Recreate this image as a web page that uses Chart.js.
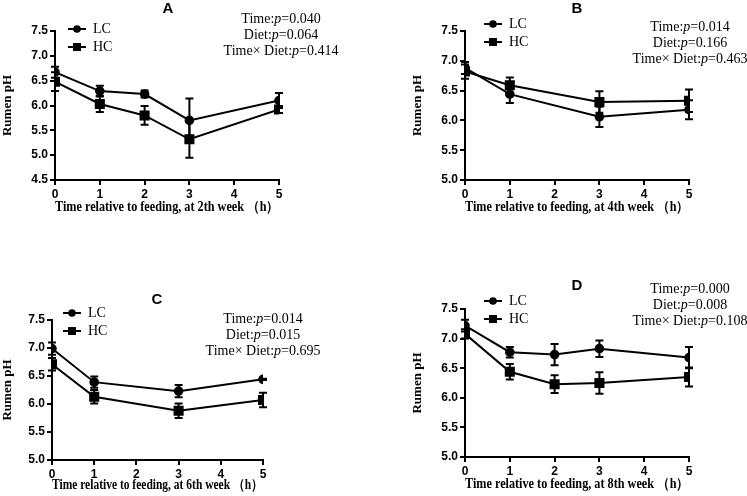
<!DOCTYPE html>
<html>
<head>
<meta charset="utf-8">
<script src="https://cdn.jsdelivr.net/npm/chart.js@4.4.1/dist/chart.umd.min.js"></script>
<style>
  html, body { margin: 0; padding: 0; background: #fff; }
  #wrap { position: relative; width: 747px; height: 496px; overflow: hidden; }
  .panel { position: absolute; }
</style>
</head>
<body>
<div id="wrap">
  <div class="panel" style="left:0;top:0;width:373px;height:248px"><canvas id="chartA"></canvas></div>
  <div class="panel" style="left:373px;top:0;width:374px;height:248px"><canvas id="chartB"></canvas></div>
  <div class="panel" style="left:0;top:248px;width:373px;height:248px"><canvas id="chartC"></canvas></div>
  <div class="panel" style="left:373px;top:248px;width:374px;height:248px"><canvas id="chartD"></canvas></div>
</div>
<script>
// hours after feeding
var timeA = [0, 1, 2, 3, 5];
var timeB = [0, 1, 3, 5];
var timeC = [0, 1, 3, 5];
var timeD = [0, 1, 2, 3, 5];

// rumen pH, mean and SEM
var lcA = [6.67, 6.29, 6.23, 5.70, 6.10];
var lcErrA = [0.11, 0.11, 0.07, 0.44, 0.15];
var hcA = [6.48, 6.03, 5.80, 5.32, 5.92];
var hcErrA = [0.19, 0.16, 0.19, 0.37, 0.07];

var lcB = [6.88, 6.44, 6.06, 6.18];
var lcErrB = [0.10, 0.15, 0.17, 0.16];
var hcB = [6.82, 6.59, 6.31, 6.33];
var hcErrB = [0.12, 0.13, 0.18, 0.19];

var lcC = [6.99, 6.39, 6.23, 6.44];
var lcErrC = [0.11, 0.10, 0.11, 0.01];
var hcC = [6.71, 6.13, 5.88, 6.07];
var hcErrC = [0.11, 0.12, 0.13, 0.13];

var lcD = [7.22, 6.77, 6.73, 6.83, 6.68];
var lcErrD = [0.10, 0.09, 0.18, 0.14, 0.18];
var hcD = [7.08, 6.44, 6.23, 6.25, 6.35];
var hcErrD = [0.08, 0.13, 0.15, 0.18, 0.16];

var pA = ['0.040', '0.064', '0.414'];
var pB = ['0.014', '0.166', '0.463'];
var pC = ['0.014', '0.015', '0.695'];
var pD = ['0.000', '0.008', '0.108'];

var weekLabels = ['2th', '4th', '6th', '8th'];

function pts(xs, ys) {
  return xs.map(function (x, i) { return { x: x, y: ys[i] }; });
}

// error bars through the chart's own scales
var errorBars = {
  id: 'errorBars',
  afterDatasetsDraw: function (chart) {
    var ctx = chart.ctx, ys = chart.scales.y, xs = chart.scales.x;
    ctx.save();
    ctx.strokeStyle = '#000';
    ctx.lineWidth = 2;
    chart.data.datasets.forEach(function (ds) {
      ds.data.forEach(function (p, i) {
        var e = ds.errors[i];
        var px = xs.getPixelForValue(p.x);
        var top = ys.getPixelForValue(p.y + e);
        var bot = ys.getPixelForValue(p.y - e);
        ctx.beginPath();
        ctx.moveTo(px, top); ctx.lineTo(px, bot);
        ctx.moveTo(px - 4, top); ctx.lineTo(px + 4, top);
        ctx.moveTo(px - 4, bot); ctx.lineTo(px + 4, bot);
        ctx.stroke();
      });
    });
    ctx.restore();
  }
};

// panel letter, legend and p-value notes
var notes = {
  id: 'notes',
  afterDraw: function (chart) {
    var o = chart.options.plugins.notes;
    var ctx = chart.ctx;
    ctx.save();
    ctx.fillStyle = '#000';
    ctx.strokeStyle = '#000';
    ctx.textBaseline = 'middle';

    ctx.font = 'bold 15px "Liberation Sans", Arial, sans-serif';
    ctx.textAlign = 'center';
    ctx.fillText(o.letter, o.letterX, o.letterY);

    // legend
    ctx.lineWidth = 2;
    var lx = o.legX, ly = o.legY;
    [['LC', 'circle'], ['HC', 'rect']].forEach(function (it, k) {
      var y = ly + k * 18;
      ctx.beginPath();
      ctx.moveTo(lx, y); ctx.lineTo(lx + 18, y);
      ctx.stroke();
      ctx.beginPath();
      if (it[1] === 'circle') {
        ctx.arc(lx + 9, y, 3.8, 0, Math.PI * 2);
      } else {
        ctx.rect(lx + 9 - 4, y - 4, 8, 8);
      }
      ctx.fill();
      ctx.font = '14px "Liberation Serif", "Times New Roman", serif';
      ctx.textAlign = 'left';
      ctx.fillText(it[0], lx + 25, y);
    });

    // p values, centred lines with italic p
    var lines = [['Time:', o.p[0]], ['Diet:', o.p[1]], ['Time\u00d7 Diet:', o.p[2]]];
    var normal = '14px "Liberation Serif", "Times New Roman", serif';
    var ital = 'italic 14px "Liberation Serif", "Times New Roman", serif';
    lines.forEach(function (ln, k) {
      var parts = [[ln[0], normal], ['p', ital], ['=' + ln[1], normal]];
      var w = 0;
      parts.forEach(function (pt) { ctx.font = pt[1]; w += ctx.measureText(pt[0]).width; });
      var x = o.pX - w / 2, y = o.pY + k * 16;
      ctx.textAlign = 'left';
      parts.forEach(function (pt) {
        ctx.font = pt[1];
        ctx.fillText(pt[0], x, y);
        x += ctx.measureText(pt[0]).width;
      });
    });
    ctx.restore();
  }
};

function makeChart(id, times, lc, lcErr, hc, hcErr, pv, week, yMin, lay) {
  return new Chart(document.getElementById(id), {
    type: 'line',
    data: {
      datasets: [{
        label: 'LC',
        data: pts(times, lc),
        errors: lcErr,
        borderColor: '#000',
        backgroundColor: '#000',
        borderWidth: 2,
        pointStyle: 'circle',
        pointRadius: 3.8,
        pointHoverRadius: 3.8
      }, {
        label: 'HC',
        data: pts(times, hc),
        errors: hcErr,
        borderColor: '#000',
        backgroundColor: '#000',
        borderWidth: 2,
        pointStyle: 'rect',
        pointRadius: 5.7,
        pointHoverRadius: 5.7
      }]
    },
    options: {
      responsive: true,
      maintainAspectRatio: false,
      animation: false,
      events: [],
      layout: { padding: { top: lay.top, left: lay.left, right: lay.right, bottom: 0 } },
      scales: {
        x: {
          type: 'linear',
          min: 0,
          max: 5,
          afterFit: function (a) { a.height = lay.xH; },
          border: { color: '#000', width: 2 },
          grid: { drawOnChartArea: false, drawTicks: true, tickLength: 5, color: '#000', lineWidth: 2 },
          ticks: {
            stepSize: 1,
            padding: 2,
            color: '#000',
            font: { family: '"Liberation Sans", Arial, sans-serif', size: 12, weight: 'bold' }
          },
          title: {
            display: true,
            text: 'Time relative to feeding, at ' + week + ' week \uff08h\uff09',
            color: '#000',
            padding: { top: 0, bottom: lay.xTitlePad },
            font: { family: '"Liberation Serif", "Times New Roman", serif', size: 13.6, weight: 'bold' }
          }
        },
        y: {
          min: yMin,
          max: 7.5,
          afterFit: function (a) { a.width = lay.yW; },
          border: { color: '#000', width: 2 },
          grid: { drawOnChartArea: false, drawTicks: true, tickLength: 5, color: '#000', lineWidth: 2 },
          ticks: {
            stepSize: 0.5,
            padding: 2,
            color: '#000',
            callback: function (v) { return v.toFixed(1); },
            font: { family: '"Liberation Sans", Arial, sans-serif', size: 12, weight: 'bold' }
          },
          title: {
            display: true,
            text: 'Rumen pH',
            color: '#000',
            padding: 0,
            font: { family: '"Liberation Serif", "Times New Roman", serif', size: 13, weight: 'bold' }
          }
        }
      },
      plugins: {
        legend: { display: false },
        title: { display: false },
        tooltip: { enabled: false },
        notes: {
          letter: lay.letter, letterX: lay.letterX, letterY: lay.letterY,
          legX: lay.legX, legY: lay.legY,
          pX: lay.pX, pY: lay.pY, p: pv
        }
      }
    },
    plugins: [errorBars, notes]
  });
}

makeChart('chartA', timeA, lcA, lcErrA, hcA, hcErrA, pA, weekLabels[0], 4.5,
  { top: 31, left: 0, right: 94, yW: 55, xH: 68, xTitlePad: 32,
    letter: 'A', letterX: 168, letterY: 9, legX: 68, legY: 29, pX: 281, pY: 19 });
makeChart('chartB', timeB, lcB, lcErrB, hcB, hcErrB, pB, weekLabels[1], 5.0,
  { top: 31, left: 37, right: 58, yW: 55, xH: 68, xTitlePad: 32,
    letter: 'B', letterX: 204, letterY: 9, legX: 111, legY: 24, pX: 317, pY: 27 });
makeChart('chartC', timeC, lcC, lcErrC, hcC, hcErrC, pC, weekLabels[2], 5.0,
  { top: 72, left: 0, right: 110, yW: 52, xH: 36, xTitlePad: 2,
    letter: 'C', letterX: 157, letterY: 52, legX: 63, legY: 65, pX: 263, pY: 71 });
makeChart('chartD', timeD, lcD, lcErrD, hcD, hcErrD, pD, weekLabels[3], 5.0,
  { top: 61, left: 37, right: 58, yW: 55, xH: 39, xTitlePad: 3,
    letter: 'D', letterX: 204, letterY: 38, legX: 111, legY: 53, pX: 317, pY: 41 });
</script>
</body>
</html>
